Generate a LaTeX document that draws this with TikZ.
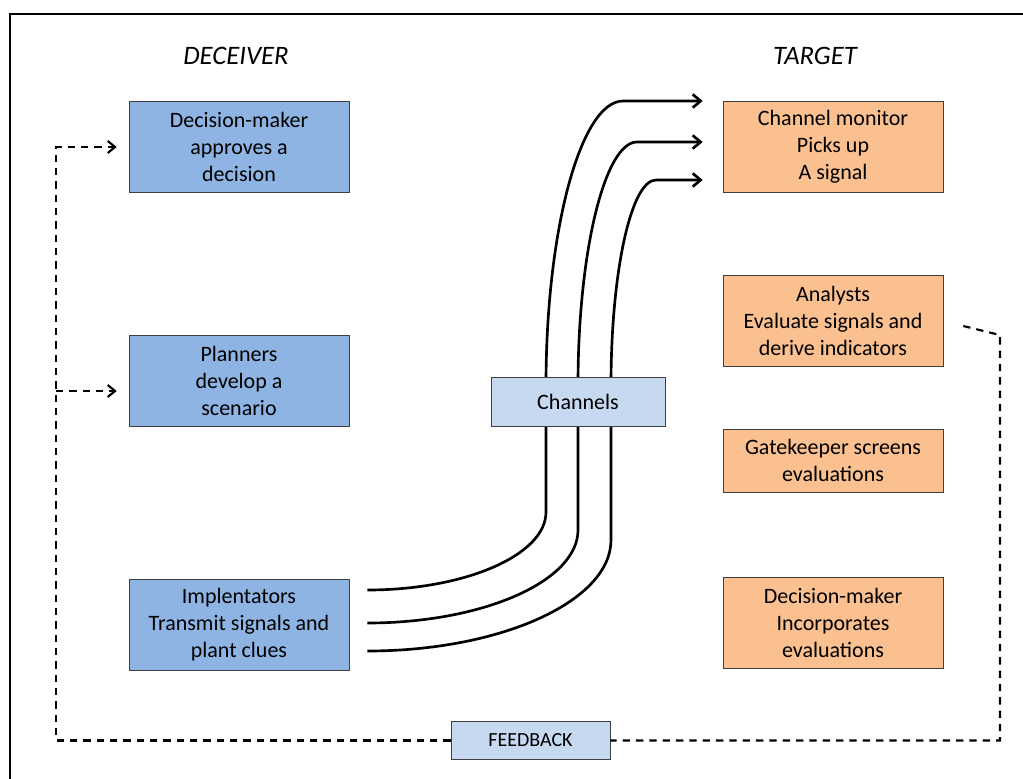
\documentclass[tikz,border=0pt]{standalone}
\usepackage{fontspec}
\setmainfont{Carlito}
\usepackage{xcolor}
\usepackage{tikz}
\usetikzlibrary{arrows.meta,positioning,calc}
\definecolor{decblue}{RGB}{142,180,227}
\definecolor{tgtorange}{RGB}{250,192,144}
\definecolor{chanblue}{RGB}{198,217,241}

\begin{document}
\begin{tikzpicture}[x=0.75pt, y=-0.75pt]
\tikzstyle{box} = [rectangle, draw=black!75, align=center, minimum width=165pt, inner sep=0pt, font=\fontsize{16.5}{20.25}\selectfont]
\tikzstyle{dbox} = [box, fill=decblue, minimum height=68pt]
\tikzstyle{tbox} = [box, fill=tgtorange, minimum height=68pt]
\tikzstyle{cbox} = [rectangle, draw=black!75, fill=chanblue, inner sep=0pt]
\tikzstyle{hdr} = [font=\fontsize{20}{24}\selectfont\itshape]
\tikzstyle{ch} = [-{Straight Barb[length=6pt,width=10pt]}, line width=2pt]
\tikzstyle{fb} = [dash pattern=on 5.5pt off 4.5pt, line width=1.6pt]
\tikzstyle{fba} = [fb, -{Straight Barb[length=5.5pt,width=9pt]}]
\useasboundingbox (0,0) rectangle (1023,778);
\clip (0,0) rectangle (1023,778);
\draw [line width=1.5pt] (10,14) rectangle (1040,800);

% headings
\node [hdr] (deceiver) at (236,56) {DECEIVER};
\node [hdr] (target) at (815,56) {TARGET};

% deceiver side
\node [dbox] (approve) at (239,147) {Decision-maker\\approves a\\decision};
\node [dbox] (planners) at (239,381) {Planners\\develop a\\scenario};
\node [dbox] (implement) at (239,625) {Implentators\\Transmit signals and\\plant clues};

% target side
\node [tbox] (monitor) at (833,147) {Channel monitor\\Picks up\\A signal};
\node [tbox] (analysts) at (833,320.5) {Analysts\\Evaluate signals and\\derive indicators};
\node [tbox, minimum height=47.25pt] (gatekeeper) at (833,460.5) {Gatekeeper screens\\evaluations};
\node [tbox] (incorporate) at (833,623) {Decision-maker\\Incorporates\\evaluations};

% channels
\draw [ch] ([shift={(18,-35)}]implement.east) .. controls +(98,0) and +(0,43) .. (546,512)
  -- (546,385) .. controls +(0,-156) and +(-42,0) .. (623,101) -- ([shift={(-20,-46)}]monitor.west);
\draw [ch] ([shift={(18,-2)}]implement.east) .. controls +(116,0) and +(0,51) .. (578,530)
  -- (578,385) .. controls +(0,-134) and +(-32,0) .. (637,142) -- ([shift={(-20,-5)}]monitor.west);
\draw [ch] ([shift={(18,26)}]implement.east) .. controls +(134,0) and +(0,61) .. (611,540)
  -- (611,385) .. controls +(0,-113) and +(-25,0) .. (656,180) -- ([shift={(-20,33)}]monitor.west);
\node [cbox, minimum width=130.5pt, minimum height=36.75pt, font=\fontsize{16.5}{20}\selectfont] (channels) at (578,401.5) {Channels};

% feedback loop
\node [cbox, minimum width=119.25pt, minimum height=28.5pt, font=\fontsize{15}{18}\selectfont] (feedback) at (530.5,740.5) {FEEDBACK};
\coordinate (fbright) at (1000,740.5);
\coordinate (fbleft) at (56,740.5);
\coordinate (fbsplit) at (56,391);
\draw [fb] ([shift={(20,5.5)}]analysts.east) -- (1000,335) -- (fbright) -- (feedback.east);
\draw [fba] (feedback.west) -- (fbleft) -- (56,147) -- ([shift={(-12,0)}]approve.west);
\draw [fba] (fbsplit) -- ([shift={(-12,10)}]planners.west);
\end{tikzpicture}
\end{document}
